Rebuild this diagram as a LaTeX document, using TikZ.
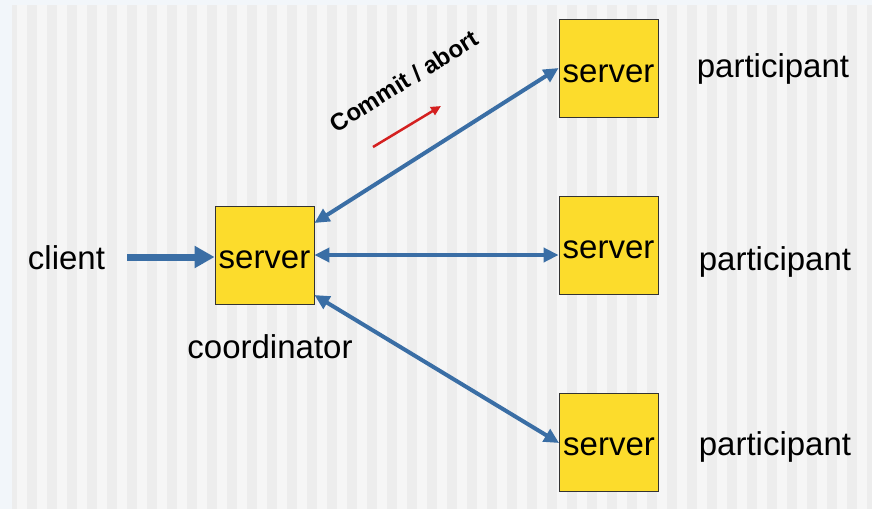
\documentclass[tikz,border=0pt]{standalone}
\usepackage{fontspec}
\setmainfont{Liberation Sans}
\usetikzlibrary{arrows.meta}
\definecolor{outerbg}{HTML}{F2F6FA}
\definecolor{stripeA}{HTML}{F6F6F6}
\definecolor{stripeB}{HTML}{EDEDED}
\definecolor{boxyellow}{HTML}{FCDC2C}
\definecolor{linkblue}{HTML}{3A6EA5}
\definecolor{arrowred}{HTML}{D42020}
\tikzset{
  srv/.style={draw=black!80, line width=0.8pt, fill=boxyellow, minimum width=99pt, minimum height=98pt, inner sep=0pt,
    font=\fontsize{33}{36}\selectfont},
  lbl/.style={font=\fontsize{33}{36}\selectfont, inner sep=0pt, anchor=base},
  link/.style={draw=linkblue, line width=4pt, {Triangle[length=15pt,width=14pt]}-{Triangle[length=15pt,width=14pt]}},
}
\begin{document}
\begin{tikzpicture}[x=1pt,y=-1pt]
\useasboundingbox (0,0) rectangle (872,509);
\fill[outerbg] (0,0) rectangle (872,509);
\fill[stripeA] (12,5) rectangle (872,509);
\begin{scope}
\clip (12,5) rectangle (872,509);
\foreach \k in {0,...,43} {
  \fill[stripeB] (7+20*\k,5) rectangle (17+20*\k,509);
}
\end{scope}
% nodes
\node[srv] (coord) at (264.5,255) {};
\node[srv] (p1) at (608.5,68) {};
\node[srv] (p2) at (608.5,245) {};
\node[srv] (p3) at (609,442.5) {};
\node[lbl] (t0) at (264.5,268) {server};
\node[lbl] (t1) at (608.5,82) {server};
\node[lbl] (t2) at (608.5,258) {server};
\node[lbl] (t3) at (609,455) {server};
\node[lbl] (client) at (66.5,269) {client};
\node[lbl] (coordlbl) at (270,358) {coordinator};
\node[lbl] (pl1) at (773,77) {participant};
\node[lbl] (pl2) at (775,270) {participant};
\node[lbl] (pl3) at (775,455) {participant};
\coordinate (cstart) at (127,257);
\draw[draw=linkblue, line width=7pt, -{Triangle[length=20pt,width=21pt]}] (cstart) -- (coord.west |- cstart);
% links
\draw[link] (coord.east |- 0,223) -- (p1.west |- 0,68);
\draw[link] (coord.east |- 0,255) -- (p2.west |- 0,255);
\draw[link] (coord.east |- 0,295) -- (p3.west |- 0,443);
% commit/abort
\node[font=\bfseries\fontsize{24}{26}\selectfont, rotate=32, inner sep=0pt] (ca) at (404,81) {Commit / abort};
\coordinate (ra) at (373,147);
\coordinate (rb) at (441,106);
\draw[draw=arrowred, line width=2.5pt, -{Triangle[length=10pt,width=9pt]}] (ra) -- (rb);
\end{tikzpicture}
\end{document}
